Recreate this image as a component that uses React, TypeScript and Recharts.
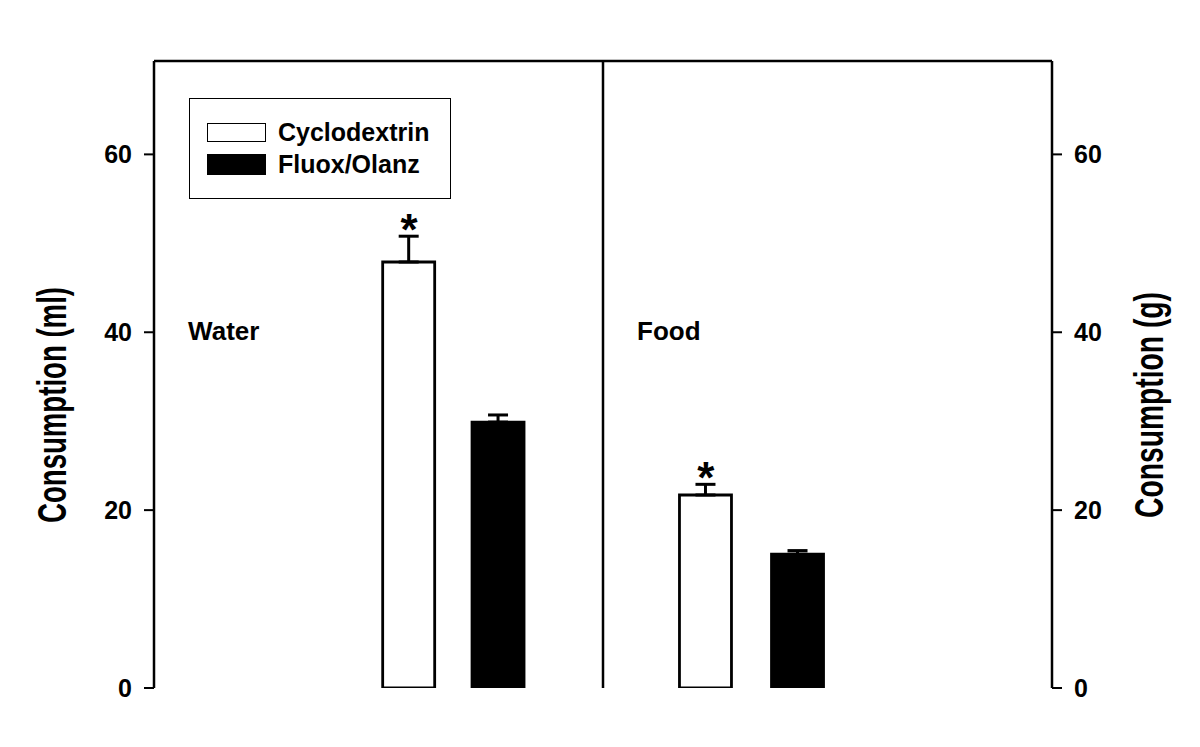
import React from 'react';
import {
  ComposedChart, Bar, Cell, ErrorBar, XAxis, YAxis, ReferenceLine, Scatter,
} from 'recharts';

const FONT = '"Liberation Sans", Arial, Helvetica, sans-serif';

// x positions along a 0–2 panel axis (Water panel 0–1, Food panel 1–2)
const barPositions = [0.568, 0.767, 1.229, 1.434];
const barGroups = ['Cyclodextrin', 'Fluox/Olanz', 'Cyclodextrin', 'Fluox/Olanz'];
const barValues = [47.9, 29.9, 21.7, 15.05];
const barErrors = [2.9, 0.8, 1.2, 0.4];
const significant = [true, false, true, false];

const panelNames = ['Water', 'Food'];
const panelLabelPositions = [0.076, 1.076];
const panelLabelLevel = 40;

const yTicks = [0, 20, 40, 60];
const yMax = 70.5;
const xDomain: [number, number] = [0, 2];
const panelDivider = 1;

const seriesNames = ['Cyclodextrin', 'Fluox/Olanz'];
const seriesFills = ['#ffffff', '#000000'];

const barData = barPositions.map((pos, i) => ({
  pos,
  group: barGroups[i],
  value: barValues[i],
  err: [0, barErrors[i]],
}));

const starData = barPositions
  .map((pos, i) => ({ pos, top: barValues[i] + barErrors[i], sig: significant[i] }))
  .filter((d) => d.sig);

const panelData = panelNames.map((name, i) => ({
  pos: panelLabelPositions[i],
  level: panelLabelLevel,
  name,
}));

const StarShape = (props: any) => {
  const { cx, cy } = props;
  return (
    <text x={cx} y={cy + 9} textAnchor="middle" fontFamily={FONT} fontWeight="bold" fontSize={44} fill="#000">
      *
    </text>
  );
};

const PanelLabel = (props: any) => {
  const { cx, cy, payload } = props;
  return (
    <text x={cx} y={cy + 8} textAnchor="start" fontFamily={FONT} fontWeight="bold" fontSize={26} fill="#000">
      {payload.name}
    </text>
  );
};

const LegendBox = () => (
  <div
    style={{
      position: 'absolute',
      left: 189,
      top: 98,
      width: 262,
      height: 101,
      border: '1.5px solid #000',
      background: '#fff',
      boxSizing: 'border-box',
      fontFamily: FONT,
      fontWeight: 'bold',
      fontSize: 25,
    }}
  >
    {seriesNames.map((n, i) => (
      <div key={n} style={{ position: 'absolute', left: 17, top: 21 + i * 32, display: 'flex', alignItems: 'center', height: 24 }}>
        <div
          style={{
            width: 59,
            height: i === 0 ? 19 : 21,
            background: seriesFills[i],
            border: '1.5px solid #000',
            boxSizing: 'border-box',
          }}
        />
        <span style={{ marginLeft: 12, lineHeight: '24px', color: '#000' }}>{n}</span>
      </div>
    ))}
  </div>
);

const makeAxisTitle = (text: string, baselineX: number, len: number) => () => (
  <text
    x={baselineX}
    y={405}
    transform={`rotate(-90 ${baselineX} 405)`}
    textAnchor="middle"
    fontFamily={FONT}
    fontWeight="bold"
    fontSize={40}
    textLength={len}
    lengthAdjust="spacingAndGlyphs"
    fill="#000"
  >
    {text}
  </text>
);

const tickStyle = { fontFamily: FONT, fontWeight: 'bold' as const, fontSize: 25, fill: '#000' };

export default function App() {
  return (
    <div style={{ position: 'absolute', left: 0, top: 0, width: 1200, height: 747, background: '#fff' }}>
      <ComposedChart
        width={1200}
        height={747}
        data={barData}
        margin={{ top: 61, right: 0, bottom: 59, left: 0 }}
      >
        <XAxis
          type="number"
          dataKey="pos"
          domain={xDomain}
          tick={false}
          tickLine={false}
          height={0}
          axisLine={{ stroke: '#000', strokeWidth: 2.5 }}
        />
        <YAxis
          yAxisId="left"
          orientation="left"
          width={154}
          domain={[0, yMax]}
          ticks={yTicks}
          allowDataOverflow
          tick={tickStyle}
          tickSize={10}
          tickMargin={12}
          tickLine={{ stroke: '#000', strokeWidth: 2 }}
          axisLine={{ stroke: '#000', strokeWidth: 2.5 }}
          label={{ content: makeAxisTitle('Consumption (ml)', 66, 236) }}
        />
        <YAxis
          yAxisId="right"
          orientation="right"
          width={148}
          domain={[0, yMax]}
          ticks={yTicks}
          allowDataOverflow
          tick={tickStyle}
          tickSize={10}
          tickMargin={12}
          tickLine={{ stroke: '#000', strokeWidth: 2 }}
          axisLine={{ stroke: '#000', strokeWidth: 2.5 }}
          label={{ content: makeAxisTitle('Consumption (g)', 1163, 226) }}
        />
        <ReferenceLine yAxisId="left" y={yMax} stroke="#000" strokeWidth={2.5} />
        <ReferenceLine yAxisId="left" x={panelDivider} stroke="#000" strokeWidth={2.5} />
        <Bar
          yAxisId="left"
          dataKey="value"
          barSize={52}
          stroke="#000"
          strokeWidth={2.8}
          isAnimationActive={false}
          legendType="none"
        >
          {barData.map((d, i) => (
            <Cell key={i} fill={d.group === seriesNames[0] ? seriesFills[0] : seriesFills[1]} />
          ))}
          <ErrorBar dataKey="err" direction="y" width={10} stroke="#000" strokeWidth={3} />
        </Bar>
        <Scatter
          yAxisId="left"
          data={starData}
          dataKey="top"
          shape={<StarShape />}
          isAnimationActive={false}
          legendType="none"
        />
        <Scatter
          yAxisId="left"
          data={panelData}
          dataKey="level"
          shape={<PanelLabel />}
          isAnimationActive={false}
          legendType="none"
        />
      </ComposedChart>
      <LegendBox />
    </div>
  );
}
